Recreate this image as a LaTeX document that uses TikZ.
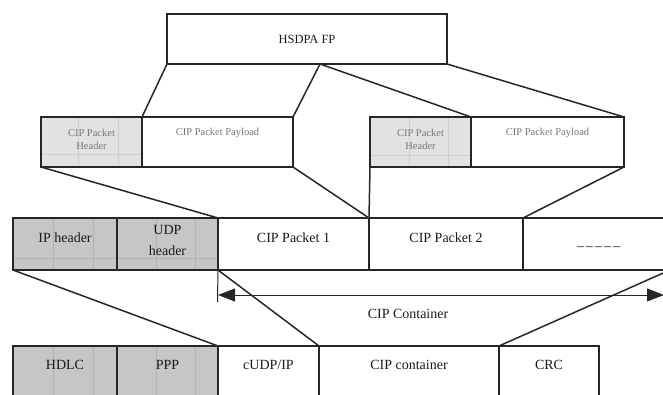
\documentclass[tikz,border=0pt]{standalone}
\usepackage{fontspec}
\setmainfont{Liberation Serif}
\usetikzlibrary{arrows.meta,calc}
\definecolor{ln}{HTML}{262626}
\definecolor{lightfill}{HTML}{E2E2E2}
\definecolor{darkfill}{HTML}{C6C6C6}
\definecolor{lightgrid}{HTML}{CFCFCF}
\definecolor{darkgrid}{HTML}{B2B2B2}
\definecolor{smalltxt}{HTML}{787878}
\definecolor{txt}{HTML}{1A1A1A}
\tikzset{
  cell/.style={draw=ln, line width=1.4pt, inner sep=0pt, outer sep=0pt, fill=white},
  cellA/.style={cell, fill=lightfill},
  cellB/.style={cell, fill=darkfill},
  conn/.style={draw=ln, line width=1.5pt},
  grid1/.style={draw=lightgrid, line width=0.6pt},
  grid2/.style={draw=darkgrid, line width=0.6pt},
  bigtxt/.style={text=txt, font=\fontsize{14}{21}\selectfont, inner sep=0pt, align=center},
  toptxt/.style={text=txt, font=\fontsize{12.5}{15}\selectfont, inner sep=0pt},
  smtxt/.style={text=smalltxt, font=\fontsize{10.5}{13}\selectfont, inner sep=0pt, align=center},
}
\begin{document}
\begin{tikzpicture}[x=1pt,y=-1pt]
\useasboundingbox (0,0) rectangle (663,394);
% top
\node[cell, minimum width=280, minimum height=50] (hs) at (307,39) {};
\node[toptxt] (hst) at (hs.center) {HSDPA FP};
\coordinate (hsm) at (320,64);
% row 2
\node[cellA, minimum width=101, minimum height=50] (h1) at (91.5,142) {};
\node[cell, minimum width=151, minimum height=50] (p1) at (217.5,142) {};
\node[cellA, minimum width=101, minimum height=50] (h2) at (420.5,142) {};
\node[cell, minimum width=153, minimum height=50] (p2) at (547.5,142) {};
\draw[grid1] (78,117) -- (78,167) (118,117) -- (118,167) (41,154) -- (142,154);
\draw[grid1] (409,117) -- (409,167) (448,117) -- (448,167) (370,155) -- (471,155);
\draw[draw=ln, line width=1.4pt] (h1.north west) rectangle (h1.south east) (h2.north west) rectangle (h2.south east);
\node[smtxt] (h1t) at ([yshift=-22pt]h1.north) {CIP Packet\\Header};
\node[smtxt] (p1t) at ([yshift=-16pt]p1.north) {CIP Packet Payload};
\node[smtxt] (h2t) at ([yshift=-22pt]h2.north) {CIP Packet\\Header};
\node[smtxt] (p2t) at ([yshift=-16pt]p2.north) {CIP Packet Payload};
% row 3
\node[cellB, minimum width=104, minimum height=52] (ip) at (65,244) {};
\node[cellB, minimum width=101, minimum height=52] (udp) at (167.5,244) {};
\node[cell, minimum width=151, minimum height=52] (c1) at (293.5,244) {};
\node[cell, minimum width=154, minimum height=52] (c2) at (446,244) {};
\node[cell, minimum width=147, minimum height=52] (dots) at (596.5,244) {};
\draw[grid2] (53,218) -- (53,270) (93,218) -- (93,270) (156,218) -- (156,270) (195,218) -- (195,270) (13,258) -- (218,258);
\draw[draw=ln, line width=1.4pt] (ip.north west) rectangle (udp.south east) (udp.north west) -- (udp.south west);
\node[bigtxt] (ipt) at ([yshift=-20pt]ip.north) {IP header};
\node[bigtxt] (udpt) at ([yshift=-22pt]udp.north) {UDP\\header};
\node[bigtxt] (c1t) at ([yshift=-20pt]c1.north) {CIP Packet 1};
\node[bigtxt] (c2t) at ([yshift=-20pt]c2.north) {CIP Packet 2};
\node[bigtxt] (dotst) at (598.5,249) {\textendash\kern2pt\textendash\kern2pt\textendash\kern2pt\textendash\kern2pt\textendash};
% row 4
\node[cellB, minimum width=104, minimum height=54] (hdlc) at (65,373) {};
\node[cellB, minimum width=101, minimum height=54] (ppp) at (167.5,373) {};
\node[cell, minimum width=101, minimum height=54] (cudp) at (268.5,373) {};
\node[cell, minimum width=180, minimum height=54] (cont) at (409,373) {};
\node[cell, minimum width=100, minimum height=54] (crc) at (549,373) {};
\draw[grid2] (53,346) -- (53,400) (93,346) -- (93,400) (156,346) -- (156,400) (195,346) -- (195,400);
\draw[draw=ln, line width=1.4pt] (hdlc.north west) rectangle (ppp.south east) (ppp.north west) -- (ppp.south west);
\node[bigtxt] (hdlct) at ([yshift=-19pt]hdlc.north) {HDLC};
\node[bigtxt] (pppt) at ([yshift=-19pt]ppp.north) {PPP};
\node[bigtxt] (cudpt) at ([yshift=-19pt]cudp.north) {cUDP/IP};
\node[bigtxt] (contt) at ([yshift=-19pt]cont.north) {CIP container};
\node[bigtxt] (crct) at ([yshift=-19pt]crc.north) {CRC};
% connectors top -> row 2
\draw[conn] (hs.south west) -- (h1.north east);
\draw[conn] (hsm) -- (p1.north east);
\draw[conn] (hsm) -- (h2.north east);
\draw[conn] (hs.south east) -- (p2.north east);
% row 2 -> row 3
\draw[conn] (h1.south west) -- (c1.north west);
\draw[conn] (p1.south east) -- (c2.north west);
\draw[conn] (h2.south west) -- (c2.north west);
\draw[conn] (p2.south east) -- (dots.north west);
% row 3 -> row 4
\draw[conn] (ip.south west) -- (cudp.north west);
\draw[conn] (c1.south west) -- (cont.north west);
\draw[conn] (dots.south east) -- (crc.north west);
% CIP container arrow
\coordinate (tickend) at (217.5,302);
\coordinate (al) at (218,295);
\coordinate (ar) at (664,295);
\draw[draw=ln, line width=1pt] (c1.south west) -- (tickend);
\draw[draw=ln, line width=0.9pt, {Triangle[length=17pt,width=13pt]}-{Triangle[length=17pt,width=13pt]}] (al) -- (ar);
\node[bigtxt] (lab) at (408,314) {CIP Container};
\end{tikzpicture}
\end{document}
